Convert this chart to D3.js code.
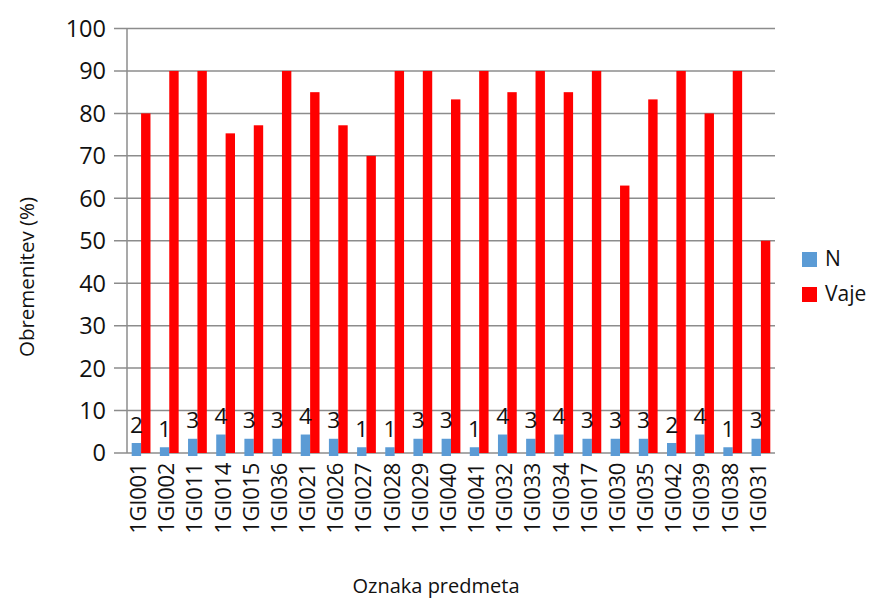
<!DOCTYPE html>
<html><head><meta charset="utf-8">
<script src="https://cdn.jsdelivr.net/npm/d3@7"></script>
<style>
html,body{margin:0;padding:0;background:#fff;}
text{font-family:"Open Sans",sans-serif;fill:#111;}
</style></head>
<body>
<svg id="chart" width="872" height="605"></svg>
<script>
const categories = ["1GI001","1GI002","1GI011","1GI014","1GI015","1GI036","1GI021","1GI026","1GI027","1GI028","1GI029","1GI040","1GI041","1GI032","1GI033","1GI034","1GI017","1GI030","1GI035","1GI042","1GI039","1GI038","1GI031"];
const seriesN = [2,1,3,4,3,3,4,3,1,1,3,3,1,4,3,4,3,3,3,2,4,1,3];
const seriesVaje = [80,90,90,75.3,77.2,90,85,77.2,70,90,90,83.3,90,85,90,85,90,63,83.3,90,80,90,50];
const seriesNames = ["N","Vaje"];
const yTicks = [0,10,20,30,40,50,60,70,80,90,100];
const colors = {"N":"#5B9BD5","Vaje":"#FF0000"};

const svg = d3.select("#chart");
const pL = 127, pR = 775, pT = 28.5, pB = 453;
const y = d3.scaleLinear().domain([0,100]).range([pB, pT]);
const x0 = d3.scaleBand().domain(categories).range([pL, pR]).padding(0);
const bw = x0.bandwidth();
const x1 = d3.scaleBand().domain(seriesNames).range([bw/6, bw*5/6]).padding(0);

// gridlines
svg.append("g").selectAll("line").data(yTicks).join("line")
  .attr("x1", pL-13).attr("x2", pR)
  .attr("y1", d=>y(d)).attr("y2", d=>y(d))
  .attr("stroke", "#8c8c8c").attr("stroke-width", 1.5);

// y axis line
svg.append("line").attr("x1", pL).attr("x2", pL).attr("y1", y(100)).attr("y2", y(0))
  .attr("stroke", "#8c8c8c").attr("stroke-width", 1.5);

// y tick labels
svg.append("g").selectAll("text").data(yTicks).join("text")
  .attr("x", 106).attr("y", d=>y(d)).attr("dy","0.36em")
  .attr("text-anchor","end").style("font-size","23.5px")
  .text(d=>d);

const rows = categories.map((c,i)=>({c, N:seriesN[i], Vaje:seriesVaje[i]}));

// bars
const g = svg.append("g");
g.selectAll("rect.n").data(rows).join("rect").attr("class","n")
  .attr("x", d=>x0(d.c)+x1("N")).attr("width", x1.bandwidth())
  .attr("y", d=>y(d.N)-1.5).attr("height", d=>y(0)-y(d.N)+4.5)
  .attr("fill", colors.N);
g.selectAll("rect.v").data(rows).join("rect").attr("class","v")
  .attr("x", d=>x0(d.c)+x1("Vaje")).attr("width", x1.bandwidth())
  .attr("y", d=>y(d.Vaje)).attr("height", d=>y(0)-y(d.Vaje))
  .attr("fill", colors.Vaje);

// data labels
g.selectAll("text.lab").data(rows).join("text").attr("class","lab")
  .attr("x", d=>x0(d.c)+x1("N")+x1.bandwidth()/2)
  .attr("y", d=>y(d.N)-12)
  .attr("text-anchor","middle").style("font-size","22.5px")
  .text(d=>d.N);

// category labels
svg.append("g").selectAll("text").data(categories).join("text")
  .attr("transform", d=>`translate(${x0(d)+bw/2-3},${pB+10}) rotate(-90)`)
  .attr("dy","0.36em").attr("text-anchor","end").style("font-size","22px")
  .style("letter-spacing","-0.3px")
  .text(d=>d);

// axis titles
svg.append("text").attr("transform","translate(27,277) rotate(-90)")
  .attr("dy","0.35em").attr("text-anchor","middle").style("font-size","20.5px")
  .text("Obremenitev (%)");
svg.append("text").attr("x", 436).attr("y", 593)
  .attr("text-anchor","middle").style("font-size","20px")
  .text("Oznaka predmeta");

// legend
const leg = svg.append("g").selectAll("g").data(seriesNames).join("g")
  .attr("transform",(d,i)=>`translate(802,${252+i*35})`);
leg.append("rect").attr("width",15).attr("height",15).attr("fill",d=>colors[d]);
leg.append("text").attr("x",23).attr("y",14).style("font-size","21px").text(d=>d);
</script>
</body></html>
